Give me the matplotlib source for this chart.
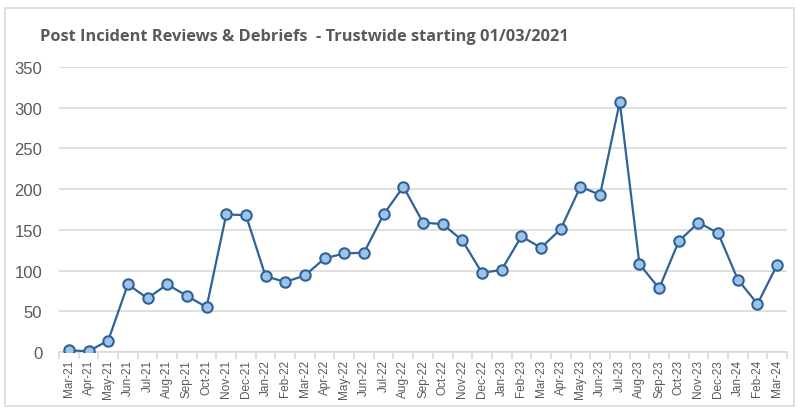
import matplotlib
matplotlib.use("Agg")
import matplotlib.pyplot as plt
from matplotlib.patches import Rectangle
import numpy as np

# ---- data ----
months = ["Mar-21", "Apr-21", "May-21", "Jun-21", "Jul-21", "Aug-21", "Sep-21", "Oct-21",
          "Nov-21", "Dec-21", "Jan-22", "Feb-22", "Mar-22", "Apr-22", "May-22", "Jun-22",
          "Jul-22", "Aug-22", "Sep-22", "Oct-22", "Nov-22", "Dec-22", "Jan-23", "Feb-23",
          "Mar-23", "Apr-23", "May-23", "Jun-23", "Jul-23", "Aug-23", "Sep-23", "Oct-23",
          "Nov-23", "Dec-23", "Jan-24", "Feb-24", "Mar-24"]
reviews = [2, 1, 14, 83, 66, 83, 69, 55,
           169, 168, 93, 86, 94, 115, 121, 122,
           169, 203, 159, 157, 137, 97, 101, 142,
           128, 151, 203, 193, 307, 108, 78, 136,
           159, 146, 89, 59, 107]
yticks = [0, 50, 100, 150, 200, 250, 300, 350]

title = "Post Incident Reviews & Debriefs  - Trustwide starting 01/03/2021"

# ---- figure ----
plt.rcParams['font.family'] = ['Liberation Sans', 'DejaVu Sans']
txt = '#595959'
grid = '#D9D9D9'

fig = plt.figure(figsize=(7.99, 4.10), dpi=100)
fig.patches.append(Rectangle((5/799, 3/410), 789/799, 398/410, transform=fig.transFigure,
                             fill=False, edgecolor=grid, linewidth=1.2))

ax = fig.add_axes([59/799, 57/410, 728/799, 285/410])
x = np.arange(len(months))
ax.plot(x, reviews, color='#2E6299', linewidth=1.6, marker='o', markersize=7.5,
        markerfacecolor='#9DC3E6', markeredgecolor='#2E6299', markeredgewidth=1.5, zorder=3)

ax.set_xlim(-0.5, len(months) - 0.5)
ax.set_ylim(0, 350)
ax.set_yticks(yticks)
ax.yaxis.grid(True, color=grid, linewidth=1.2)
ax.set_axisbelow(True)
for s in ['top', 'right', 'left']:
    ax.spines[s].set_visible(False)
ax.spines['bottom'].set_color(grid)
ax.spines['bottom'].set_linewidth(1.2)

ax.set_xticks(x)
ax.set_xticklabels(months, rotation=90, fontsize=8.5, color=txt)
ax.set_xticks(np.arange(-0.5, len(months), 1), minor=True)
ax.tick_params(axis='x', which='major', length=0, pad=5)
ax.tick_params(axis='x', which='minor', length=5, color=grid, width=1.2)
ax.tick_params(axis='y', length=0, labelsize=12, labelcolor=txt, pad=12)

fig.text(40/799, 1 - 37/410, title, fontsize=11.8, fontweight='bold', color=txt,
         ha='left', va='center', family=['Open Sans', 'DejaVu Sans'])

fig.savefig("out.png", dpi=100)
